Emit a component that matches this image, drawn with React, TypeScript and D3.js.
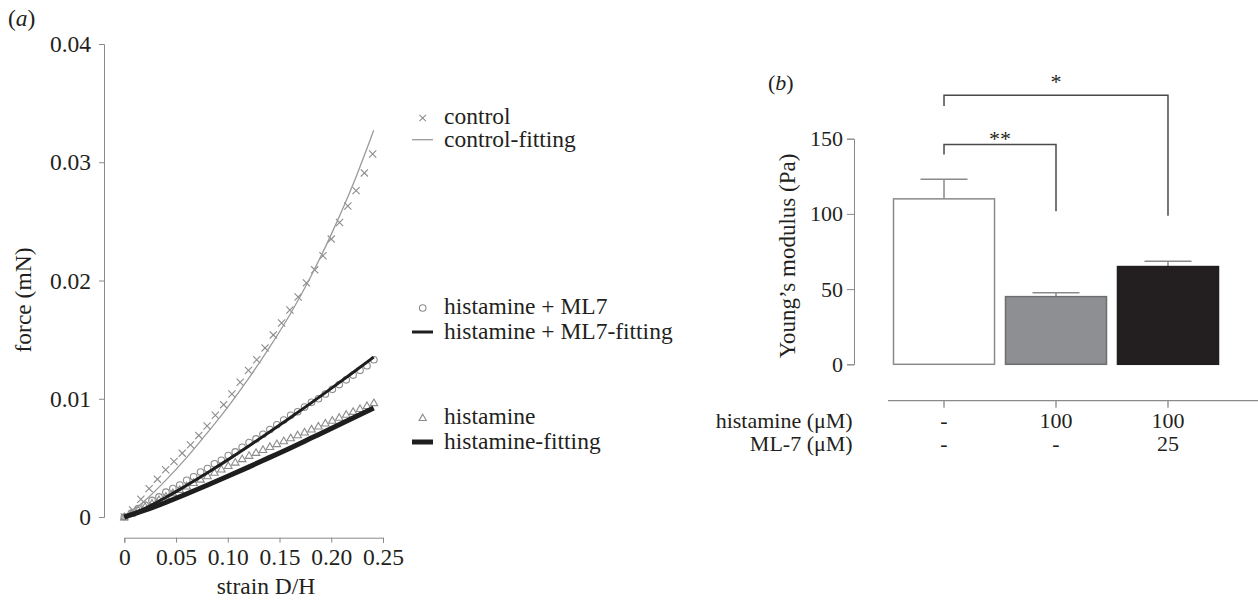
import { useEffect, useRef } from 'react';
import * as d3 from 'd3';

// ── (a) force vs strain data ────────────────────────────────────────────────
const CONTROL_STRAIN = [0, 0.008, 0.016, 0.024, 0.032, 0.04, 0.048, 0.056, 0.064, 0.072, 0.08, 0.088, 0.096, 0.104, 0.112, 0.12, 0.128, 0.136, 0.144, 0.152, 0.16, 0.168, 0.176, 0.184, 0.192, 0.2, 0.208, 0.216, 0.224, 0.232, 0.24];
const CONTROL_FORCE = [0, 0.0006, 0.0015, 0.0024, 0.0032, 0.004, 0.0047, 0.0054, 0.0061, 0.0069, 0.0077, 0.0086, 0.0095, 0.0104, 0.0114, 0.0124, 0.0133, 0.0143, 0.0154, 0.0164, 0.0175, 0.0186, 0.0198, 0.0209, 0.0221, 0.0235, 0.0249, 0.0263, 0.0276, 0.0291, 0.0307];

const HIST_STRAIN = [0, 0.0067, 0.0134, 0.0201, 0.0268, 0.0335, 0.0402, 0.0469, 0.0536, 0.0603, 0.067, 0.0737, 0.0804, 0.0871, 0.0938, 0.1005, 0.1072, 0.1139, 0.1206, 0.1273, 0.134, 0.1407, 0.1474, 0.1541, 0.1608, 0.1675, 0.1742, 0.1809, 0.1876, 0.1943, 0.201, 0.2077, 0.2144, 0.2211, 0.2278, 0.2345, 0.2412];
const ML7_FORCE = [0, 0.0003, 0.0007, 0.001, 0.0014, 0.0017, 0.0021, 0.0024, 0.0027, 0.0031, 0.0034, 0.0038, 0.0041, 0.0045, 0.0048, 0.0052, 0.0055, 0.0059, 0.0063, 0.0066, 0.007, 0.0074, 0.0078, 0.0082, 0.0086, 0.0089, 0.0093, 0.0097, 0.01, 0.0104, 0.0108, 0.0112, 0.0116, 0.012, 0.0124, 0.0128, 0.0133];
const HIST_FORCE = [0, 0.00029, 0.00058, 0.00086, 0.00115, 0.00144, 0.00173, 0.00202, 0.0023, 0.00259, 0.00288, 0.00317, 0.00346, 0.00375, 0.00403, 0.00432, 0.00461, 0.0049, 0.00518, 0.00543, 0.00568, 0.00593, 0.00617, 0.00642, 0.00667, 0.00692, 0.00716, 0.00741, 0.00766, 0.00791, 0.00815, 0.0084, 0.00865, 0.0089, 0.00914, 0.00939, 0.00964];

const FIT_STRAIN = [0, 0.02, 0.04, 0.06, 0.08, 0.1, 0.12, 0.14, 0.16, 0.18, 0.2, 0.22, 0.241];
const CONTROL_FIT = [0, 0.0014, 0.0031, 0.005, 0.0071, 0.0093, 0.0117, 0.0143, 0.0171, 0.0203, 0.0239, 0.0279, 0.0327];
const ML7_FIT = [0, 0.00074, 0.00165, 0.00266, 0.00372, 0.00483, 0.00598, 0.00717, 0.00838, 0.00961, 0.01088, 0.01216, 0.01352];
const HIST_FIT = [0, 0.00057, 0.00123, 0.00194, 0.00268, 0.00344, 0.00422, 0.00502, 0.00582, 0.00665, 0.00748, 0.00832, 0.00922];

const A_Y_TICKS = [0, 0.01, 0.02, 0.03, 0.04];
const A_Y_LABELS = ['0', '0.01', '0.02', '0.03', '0.04'];
const A_X_TICKS = [0, 0.05, 0.1, 0.15, 0.2, 0.25];
const A_X_LABELS = ['0', '0.05', '0.10', '0.15', '0.20', '0.25'];

// ── (b) Young's modulus bars ────────────────────────────────────────────────
const GROUPS = ['control', 'histamine', 'histamine+ML-7'];
const MODULUS = [110, 45, 65];
const MODULUS_ERR = [13, 2.5, 3.5];
const HISTAMINE_ROW = ['-', '100', '100'];
const ML7_ROW = ['-', '-', '25'];
const B_Y_TICKS = [0, 50, 100, 150];

const FONT = '"Liberation Serif", "Times New Roman", Times, serif';
const W = 1258, H = 600;
const INK = '#231f20';
const AXIS = '#8a8a8a';
const MARK = '#8c8c8c';

export default function App() {
  const svgRef = useRef<SVGSVGElement>(null);

  useEffect(() => {
    if (!svgRef.current) return;
    const svg = d3.select(svgRef.current);
    svg.selectAll('*').remove();

    // ── panel (a) ──
    const fa = 23.5;
    const x = d3.scaleLinear().domain([0, 0.25]).range([124.3, 383]);
    const y = d3.scaleLinear().domain([0, 0.04]).range([517, 44]);
    const a = svg.append('g');

    a.append('g').attr('transform', 'translate(104,0)')
      .call(d3.axisLeft(y).tickValues(A_Y_TICKS).tickSizeOuter(0).tickSize(5).tickPadding(8)
        .tickFormat((_, i) => A_Y_LABELS[i]))
      .call(ax => ax.select('.domain').attr('stroke', AXIS))
      .call(ax => ax.selectAll('line').attr('stroke', AXIS))
      .call(ax => ax.selectAll('text').attr('fill', INK).style('font-size', `${fa}px`).style('font-family', FONT));

    a.append('g').attr('transform', 'translate(0,537.7)')
      .call(d3.axisBottom(x).tickValues(A_X_TICKS).tickSizeOuter(0).tickSize(5).tickPadding(6)
        .tickFormat((_, i) => A_X_LABELS[i]))
      .call(ax => ax.select('.domain').attr('stroke', AXIS))
      .call(ax => ax.selectAll('line').attr('stroke', AXIS))
      .call(ax => ax.selectAll('text').attr('fill', INK).style('font-size', `${fa}px`).style('font-family', FONT));

    a.append('text').attr('x', 266).attr('y', 594).attr('text-anchor', 'middle')
      .style('font-size', `${fa}px`).style('font-family', FONT).attr('fill', INK).text('strain D/H');
    a.append('text').attr('transform', 'translate(31,300) rotate(-90)').attr('text-anchor', 'middle')
      .style('font-size', `${fa}px`).style('font-family', FONT).attr('fill', INK).text('force (mN)');

    const lab = a.append('text').attr('x', 8).attr('y', 26)
      .style('font-size', `${fa}px`).style('font-family', FONT).attr('fill', INK);
    lab.append('tspan').text('(');
    lab.append('tspan').style('font-style', 'italic').text('a');
    lab.append('tspan').text(')');

    const crossPath = (s: number) => `M${-s},${-s}L${s},${s}M${-s},${s}L${s},${-s}`;
    const triPath = (s: number) => `M0,${-s}L${s * 0.95},${s * 0.65}L${-s * 0.95},${s * 0.65}Z`;

    // markers
    a.append('g').selectAll('path').data(CONTROL_STRAIN).enter().append('path')
      .attr('d', crossPath(3.6))
      .attr('transform', (d, i) => `translate(${x(d)},${y(CONTROL_FORCE[i])})`)
      .attr('stroke', MARK).attr('stroke-width', 1.1).attr('fill', 'none');
    a.append('g').selectAll('circle').data(HIST_STRAIN).enter().append('circle')
      .attr('cx', d => x(d)).attr('cy', (d, i) => y(ML7_FORCE[i])).attr('r', 3.3)
      .attr('stroke', MARK).attr('stroke-width', 1.1).attr('fill', 'none');
    a.append('g').selectAll('path').data(HIST_STRAIN).enter().append('path')
      .attr('d', triPath(4))
      .attr('transform', (d, i) => `translate(${x(d)},${y(HIST_FORCE[i])})`)
      .attr('stroke', MARK).attr('stroke-width', 1.1).attr('fill', 'none');

    // fitting curves
    const line = d3.line<number>().x(d => x(d)).curve(d3.curveMonotoneX);
    const fits = [
      { vals: CONTROL_FIT, color: '#9a9a9a', w: 1.3 },
      { vals: ML7_FIT, color: '#1e1e1e', w: 3 },
      { vals: HIST_FIT, color: '#1e1e1e', w: 5 },
    ];
    fits.forEach(f => {
      a.append('path').datum(FIT_STRAIN)
        .attr('d', line.y((d, i) => y(f.vals[i]))(FIT_STRAIN) as string)
        .attr('fill', 'none').attr('stroke', f.color).attr('stroke-width', f.w);
    });

    // legend
    const legend = [
      { label: 'control', kind: 'cross', y: 124 },
      { label: 'control-fitting', kind: 'line', w: 1.3, color: '#9a9a9a', y: 146.7 },
      { label: 'histamine + ML7', kind: 'circle', y: 314 },
      { label: 'histamine + ML7-fitting', kind: 'line', w: 3, color: '#1e1e1e', y: 339 },
      { label: 'histamine', kind: 'tri', y: 424 },
      { label: 'histamine-fitting', kind: 'line', w: 5, color: '#1e1e1e', y: 449 },
    ];
    const lg = a.append('g');
    legend.forEach(it => {
      const cy = it.y - 6;
      if (it.kind === 'cross') {
        lg.append('path').attr('d', crossPath(3.2)).attr('transform', `translate(422.7,${cy})`)
          .attr('stroke', MARK).attr('stroke-width', 1.1).attr('fill', 'none');
      } else if (it.kind === 'circle') {
        lg.append('circle').attr('cx', 422.7).attr('cy', cy).attr('r', 3.3)
          .attr('stroke', MARK).attr('stroke-width', 1.1).attr('fill', 'none');
      } else if (it.kind === 'tri') {
        lg.append('path').attr('d', triPath(3.8)).attr('transform', `translate(422.7,${cy})`)
          .attr('stroke', MARK).attr('stroke-width', 1.1).attr('fill', 'none');
      } else {
        lg.append('line').attr('x1', 412).attr('x2', 433).attr('y1', cy - 1).attr('y2', cy - 1)
          .attr('stroke', it.color as string).attr('stroke-width', it.w as number);
      }
      lg.append('text').attr('x', 444).attr('y', it.y)
        .style('font-size', `${fa}px`).style('font-family', FONT).attr('fill', INK).text(it.label);
    });

    // ── panel (b) ──
    const fb = 22;
    const xb = d3.scaleBand<string>().domain(GROUPS).range([893.5, 1218.5]).paddingInner(0.098).paddingOuter(0);
    const yb = d3.scaleLinear().domain([0, 150]).range([364.3, 138.7]);
    const b = svg.append('g');

    b.append('g').attr('transform', 'translate(854,0)')
      .call(d3.axisLeft(yb).tickValues(B_Y_TICKS).tickSizeOuter(0).tickSize(7).tickPadding(4))
      .call(ax => ax.select('.domain').attr('stroke', AXIS))
      .call(ax => ax.selectAll('line').attr('stroke', AXIS))
      .call(ax => ax.selectAll('text').attr('fill', INK).style('font-size', `${fb}px`).style('font-family', FONT));

    b.append('text').attr('transform', 'translate(795,256) rotate(-90)').attr('text-anchor', 'middle')
      .style('font-size', `${fb + 1}px`).style('font-family', FONT).attr('fill', INK).text('Young\u2019s modulus (Pa)');

    const lb = b.append('text').attr('x', 768).attr('y', 90)
      .style('font-size', `${fb}px`).style('font-family', FONT).attr('fill', INK);
    lb.append('tspan').text('(');
    lb.append('tspan').style('font-style', 'italic').text('b');
    lb.append('tspan').text(')');

    const fills = ['#ffffff', '#8e8f92', INK];
    const strokes = ['#8a8a8a', '#6d6e70', INK];
    GROUPS.forEach((g, i) => {
      const bx = xb(g) as number;
      const bw = xb.bandwidth();
      const cx = bx + bw / 2;
      b.append('line').attr('x1', cx).attr('x2', cx)
        .attr('y1', yb(MODULUS[i])).attr('y2', yb(MODULUS[i] + MODULUS_ERR[i]))
        .attr('stroke', AXIS).attr('stroke-width', 1.5);
      b.append('line').attr('x1', cx - 23.5).attr('x2', cx + 23.5)
        .attr('y1', yb(MODULUS[i] + MODULUS_ERR[i])).attr('y2', yb(MODULUS[i] + MODULUS_ERR[i]))
        .attr('stroke', AXIS).attr('stroke-width', 1.5);
      b.append('rect').attr('x', bx).attr('y', yb(MODULUS[i]))
        .attr('width', bw).attr('height', yb(0) - yb(MODULUS[i]))
        .attr('fill', fills[i]).attr('stroke', strokes[i]).attr('stroke-width', 1.5);
    });

    // category axis + rows
    const axY = 400.7;
    b.append('line').attr('x1', 888).attr('x2', W).attr('y1', axY).attr('y2', axY)
      .attr('stroke', AXIS).attr('stroke-width', 1.3);
    GROUPS.forEach((g, i) => {
      const cx = (xb(g) as number) + xb.bandwidth() / 2;
      b.append('line').attr('x1', cx).attr('x2', cx).attr('y1', axY).attr('y2', axY + 7)
        .attr('stroke', AXIS).attr('stroke-width', 1.3);
      b.append('text').attr('x', cx).attr('y', 428).attr('text-anchor', 'middle')
        .style('font-size', `${fb}px`).style('font-family', FONT).attr('fill', INK).text(HISTAMINE_ROW[i]);
      b.append('text').attr('x', cx).attr('y', 450.7).attr('text-anchor', 'middle')
        .style('font-size', `${fb}px`).style('font-family', FONT).attr('fill', INK).text(ML7_ROW[i]);
    });
    b.append('text').attr('x', 852.7).attr('y', 428).attr('text-anchor', 'end')
      .style('font-size', `${fb}px`).style('font-family', FONT).attr('fill', INK).text('histamine (\u03bcM)');
    b.append('text').attr('x', 852.7).attr('y', 450.7).attr('text-anchor', 'end')
      .style('font-size', `${fb}px`).style('font-family', FONT).attr('fill', INK).text('ML-7 (\u03bcM)');

    // significance brackets
    const sig = [
      { from: 0, to: 1, top: 146.2, l: 139.5, r: 101.8, label: '**', ty: 146 },
      { from: 0, to: 2, top: 178.9, l: 171.8, r: 98.7, label: '*', ty: 89 },
    ];
    sig.forEach(s => {
      const x1 = (xb(GROUPS[s.from]) as number) + xb.bandwidth() / 2;
      const x2 = (xb(GROUPS[s.to]) as number) + xb.bandwidth() / 2;
      b.append('path')
        .attr('d', `M${x1},${yb(s.l)}V${yb(s.top)}H${x2}V${yb(s.r)}`)
        .attr('fill', 'none').attr('stroke', '#4a4a4a').attr('stroke-width', 1.5);
      b.append('text').attr('x', (x1 + x2) / 2).attr('y', s.ty).attr('text-anchor', 'middle')
        .style('font-size', `${fb}px`).style('font-family', FONT).attr('fill', INK).text(s.label);
    });
  }, []);

  return (
    <svg ref={svgRef} width={W} height={H} viewBox={`0 0 ${W} ${H}`}
      style={{ position: 'absolute', left: 0, top: 0, display: 'block', background: '#fff' }} />
  );
}
